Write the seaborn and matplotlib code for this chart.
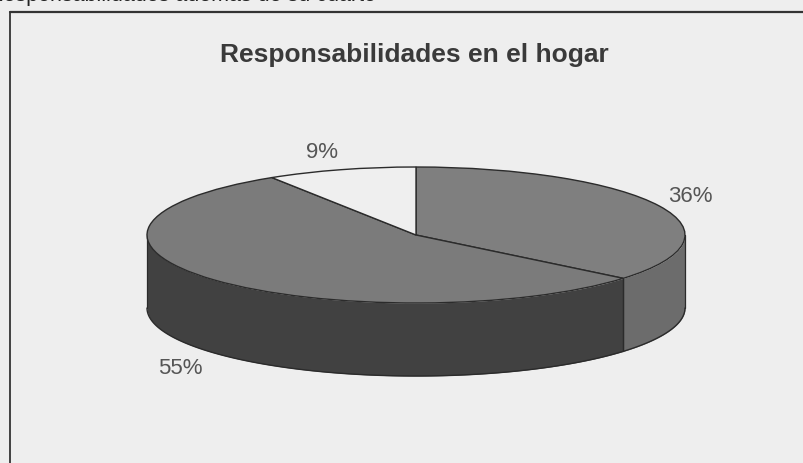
import numpy as np
import matplotlib
matplotlib.use("Agg")
import matplotlib.pyplot as plt
import seaborn as sns

# Data
title = "Responsabilidades en el hogar"
header_left = "Responsabilidades además de su cuarto"
header_right = "9 %"
shares = [36, 55, 9]
top_colors = ["#7f7f7f", "#7b7b7b", "#efefef"]
wall_colors = ["#6c6c6c", "#414141", "#d0d0d0"]

bg = "#eeeeee"
W, H = 804, 464
cx, cy, rx, ry = 416, 236, 269, 68
depth = 73 / ry

sns.set_theme(style="white")
plt.rcParams["font.family"] = ["Liberation Sans", "DejaVu Sans"]

fig = plt.figure(figsize=(W / 100, H / 100), dpi=100, facecolor=bg)
ax = fig.add_axes([0, 0, 1, 1])

# top face of the pie, clockwise from twelve o'clock
wedges, _ = ax.pie(shares, startangle=90, counterclock=False, colors=top_colors,
                   wedgeprops={"edgecolor": "#2b2b2b", "linewidth": 1.0, "zorder": 3})

# the pie squashed into an ellipse by stretching the axes
ax.set_aspect("auto")
ax.set_xlim(-cx / rx, (W - cx) / rx)
ax.set_ylim((cy - H) / ry, cy / ry)
ax.axis("off")

# side wall: only the part of each slice that faces the viewer
for wedge, color in zip(wedges, wall_colors):
    lo = max(wedge.theta1, -180)
    hi = min(wedge.theta2, 0)
    if lo >= hi:
        continue
    t = np.radians(np.linspace(lo, hi, 120))
    ax.fill_between(np.cos(t), np.sin(t), np.sin(t) - depth, color=color, lw=0, zorder=1)
    ax.plot(np.cos(t), np.sin(t) - depth, color="#2b2b2b", lw=1.0, zorder=2)
    for side in [lo, hi]:
        a = np.radians(side)
        ax.plot([np.cos(a)] * 2, [np.sin(a), np.sin(a) - depth], color="#2b2b2b", lw=0.9, zorder=2)


def px(x, y):
    return x / W, 1 - y / H


# frame, open at the bottom and cut by the right edge
fig.add_artist(plt.Line2D([10 / W, 10 / W], [0, 1 - 13 / H], color="#333333", lw=1.3))
fig.add_artist(plt.Line2D([10 / W, 1], [1 - 13 / H, 1 - 13 / H], color="#333333", lw=1.6))

# text
fig.text(*px(414, 55), title, ha="center", va="center", fontsize=19, fontweight="bold", color="#3a3a3a")
label_pos = [(690, 197), (180, 369), (322, 152)]
for share, pos in zip(shares, label_pos):
    fig.text(*px(*pos), f"{share}%", ha="center", va="center", fontsize=16, color="#555555")
# header line of the scanned page, cut by the top edge as in the reference
fig.text(*px(-12, -5), header_left, ha="left", va="center", fontsize=15.5, color="#222222")
fig.text(*px(618, -5), header_right, ha="center", va="center", fontsize=15.5, color="#222222")

fig.savefig("out.png", dpi=100, facecolor=bg)
